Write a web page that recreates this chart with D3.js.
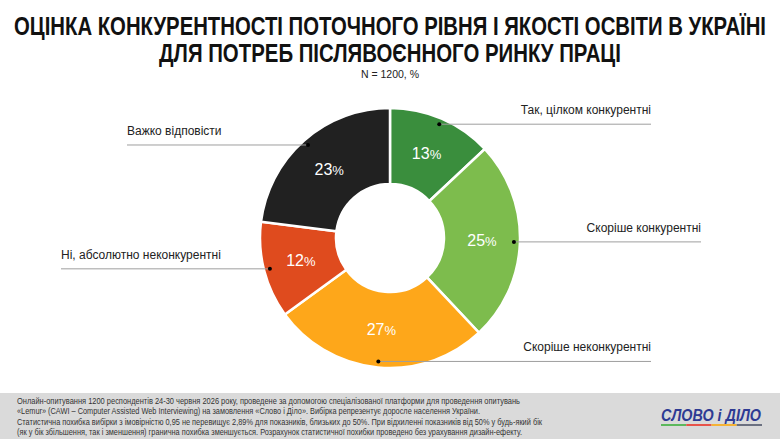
<!DOCTYPE html>
<html>
<head>
<meta charset="utf-8">
<script src="https://cdn.jsdelivr.net/npm/d3@7"></script>
<style>
  body { margin: 0; background: #fff; }
  text { font-family: "Liberation Sans", Arial, sans-serif; }
</style>
</head>
<body>
<svg id="vis"></svg>
<script>
    // data
    const categories = ['Так, цілком конкурентні', 'Скоріше конкурентні', 'Скоріше неконкурентні',
        'Ні, абсолютно неконкурентні', 'Важко відповісти']
    const values = [13, 25, 27, 12, 23]
    const colors = ['#3a8e3d', '#7dbc4d', '#fea71a', '#df4b1e', '#212121']

    const titleLines = ['ОЦІНКА КОНКУРЕНТНОСТІ ПОТОЧНОГО РІВНЯ І ЯКОСТІ ОСВІТИ В УКРАЇНІ',
        'ДЛЯ ПОТРЕБ ПІСЛЯВОЄННОГО РИНКУ ПРАЦІ']
    const subtitle = 'N = 1200, %'
    const footnote = [
        'Онлайн-опитування 1200 респондентів 24-30 червня 2026 року, проведене за допомогою спеціалізованої платформи для проведення опитувань',
        '«Lemur» (CAWI – Computer Assisted Web Interviewing) на замовлення «Слово і Діло». Вибірка репрезентує доросле населення України.',
        'Статистична похибка вибірки з імовірністю 0,95 не перевищує 2,89% для показників, близьких до 50%. При відхиленні показників від 50% у будь-який бік',
        '(як у бік збільшення, так і зменшення) гранична похибка зменшується. Розрахунок статистичної похибки проведено без урахування дизайн-ефекту.'
    ]

    // layout
    const W = 780, H = 439
    const cx = 390, cy = 238, R = 130, r0 = 54
    // where each leader line ends (x)
    const labelEnds = [651, 701, 651, 61, 127]
    const titleWidths = [752, 462]
    const footWidths = [503, 463, 525, 505]

    let svg = d3.select('#vis')
        .attr('width', W)
        .attr('height', H)

    // title, squeezed horizontally like a narrow font
    svg.selectAll('text.title')
        .data(titleLines)
        .enter().append('text')
        .attr('class', 'title')
        .attr('text-anchor', 'middle')
        .style('font-weight', 'bold')
        .style('font-size', '26px')
        .attr('fill', '#111')
        .text(d => d)
        .each(function (d, i) {
            let k = titleWidths[i] / this.getComputedTextLength()
            d3.select(this).attr('transform',
                `translate(${W / 2},${35 + i * 26.5}) scale(${k},1)`)
        })

    svg.append('text')
        .attr('x', W / 2)
        .attr('y', 78)
        .attr('text-anchor', 'middle')
        .style('font-size', '10.5px')
        .attr('fill', '#222')
        .text(subtitle)

    // donut
    let pie = d3.pie().sort(null).value(d => d)
    let arcs = pie(values)
    let arc = d3.arc().innerRadius(r0).outerRadius(R)
    let labelArc = d3.arc().innerRadius(92).outerRadius(92)
    let dotArc = d3.arc().innerRadius(124).outerRadius(124)

    let g = svg.append('g').attr('transform', `translate(${cx},${cy})`)

    g.selectAll('path')
        .data(arcs)
        .enter().append('path')
        .attr('d', arc)
        .attr('fill', (d, i) => colors[i])
        .attr('stroke', '#fff')
        .attr('stroke-width', 2.5)

    // percent labels
    let pct = g.selectAll('text.pct')
        .data(arcs)
        .enter().append('text')
        .attr('class', 'pct')
        .attr('transform', d => `translate(${labelArc.centroid(d)})`)
        .attr('text-anchor', 'middle')
        .attr('dy', '0.35em')
        .attr('fill', '#fff')
    pct.append('tspan').style('font-size', '16px').text(d => d.data)
    pct.append('tspan').style('font-size', '13px').text('%')

    // leader lines + category labels
    arcs.forEach(function (d, i) {
        let p = dotArc.centroid(d)
        let px = cx + p[0], py = cy + p[1]
        let right = labelEnds[i] > cx
        svg.append('line')
            .attr('x1', px).attr('y1', py)
            .attr('x2', labelEnds[i]).attr('y2', py)
            .attr('stroke', '#9e9e9e')
            .attr('stroke-width', 1)
        svg.append('circle')
            .attr('cx', px).attr('cy', py)
            .attr('r', 2)
            .attr('fill', '#000')
        svg.append('text')
            .attr('x', labelEnds[i])
            .attr('y', py - 10)
            .attr('text-anchor', right ? 'end' : 'start')
            .style('font-size', '12px')
            .attr('fill', '#222')
            .text(categories[i])
    })

    // footer band
    svg.append('rect')
        .attr('x', 0).attr('y', 393)
        .attr('width', W).attr('height', H - 393)
        .attr('fill', '#dadada')

    svg.selectAll('text.foot')
        .data(footnote)
        .enter().append('text')
        .attr('class', 'foot')
        .attr('x', 17)
        .attr('y', (d, i) => 404 + i * 10.4)
        .attr('textLength', (d, i) => footWidths[i])
        .attr('lengthAdjust', 'spacingAndGlyphs')
        .style('font-size', '8.8px')
        .attr('fill', '#333')
        .text(d => d)

    // logo
    svg.append('text')
        .attr('x', 711)
        .attr('y', 421)
        .attr('text-anchor', 'middle')
        .attr('textLength', 100)
        .attr('lengthAdjust', 'spacingAndGlyphs')
        .style('font-size', '17px')
        .style('font-weight', 'bold')
        .style('font-style', 'italic')
        .attr('fill', '#2e3b93')
        .text('СЛОВО і ДІЛО')

    let logoColors = ['#5cb85c', '#e8534a', '#f5b335', '#6b7080']
    svg.selectAll('rect.bar')
        .data(logoColors)
        .enter().append('rect')
        .attr('class', 'bar')
        .attr('x', (d, i) => 661 + i * 25.25)
        .attr('y', 424)
        .attr('width', 25.25)
        .attr('height', 2)
        .attr('fill', d => d)
</script>
</body>
</html>
